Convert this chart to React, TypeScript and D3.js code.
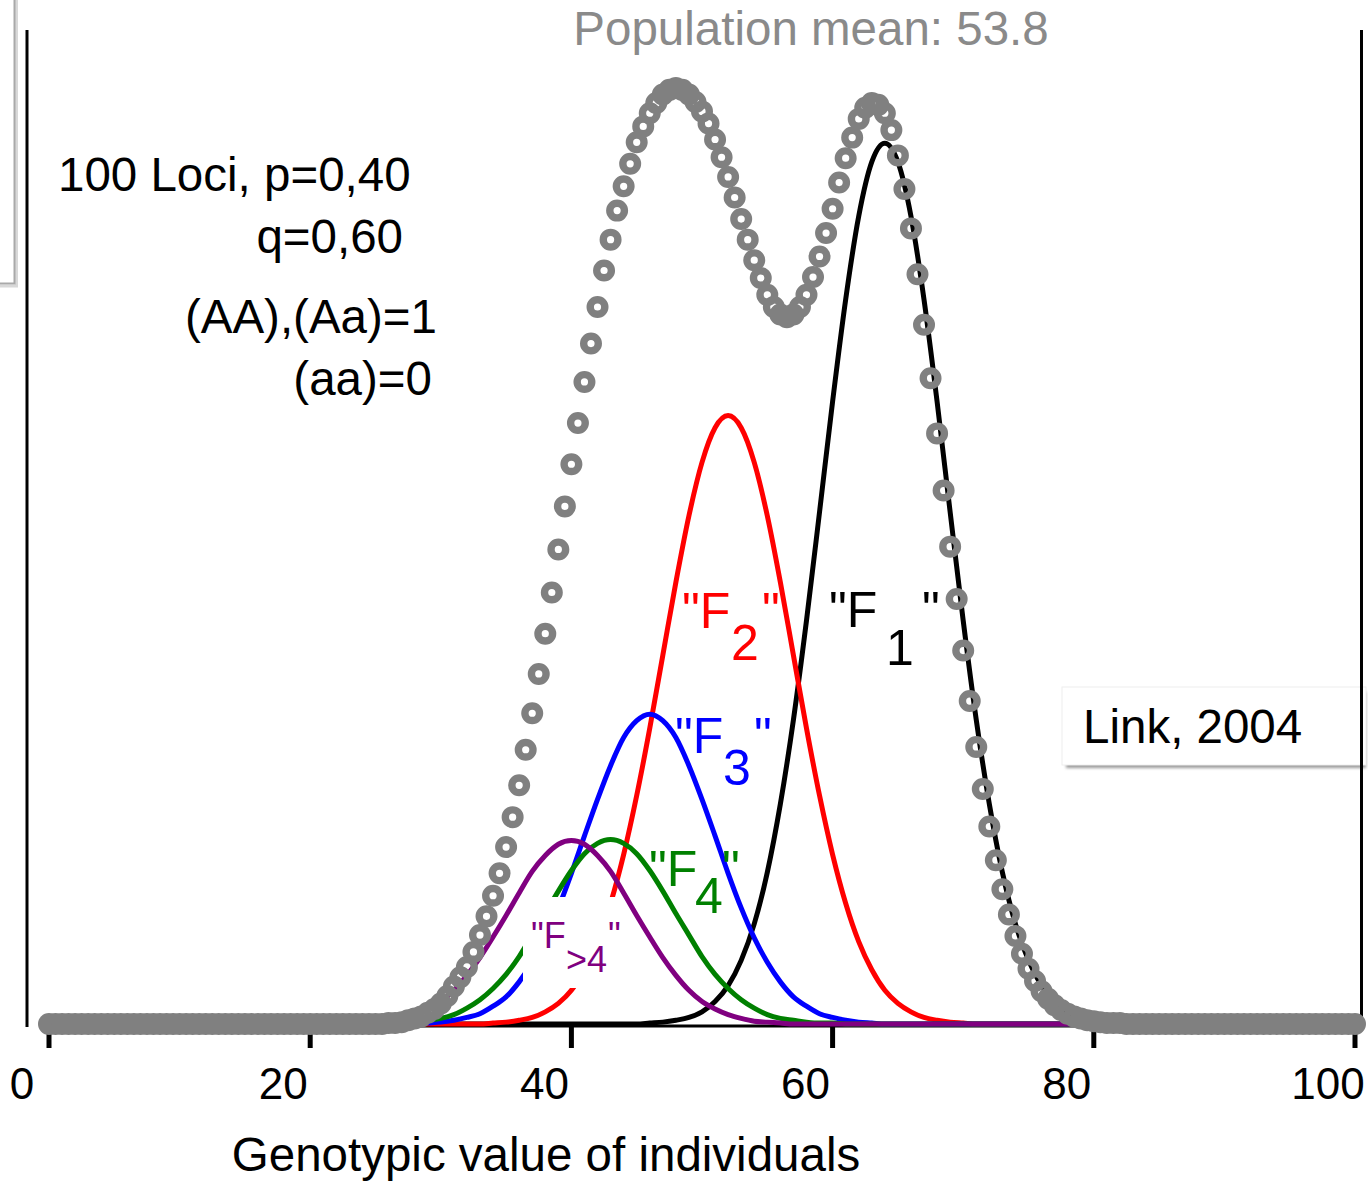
import React, { useEffect, useRef } from 'react';
import * as d3 from 'd3';

// genotypic value axis
const xTicks = [0, 20, 40, 60, 80, 100];
const xTitle = 'Genotypic value of individuals';
const meanTitle = 'Population mean: 53.8';
const noteLines = ['100 Loci, p=0,40', 'q=0,60', '(AA),(Aa)=1', '(aa)=0'];
const source = 'Link, 2004';

// generations: colour, label pieces
const generations = ['F1', 'F2', 'F3', 'F4', 'F>4'];
const genColors = ['#000000', '#ff0000', '#0000ff', '#008000', '#800080'];
const genSubs = ['1', '2', '3', '4', '>4'];

// frequency per genotypic value 0..100 (step 1)
const f1 = [
  0, 0, 0, 0, 0, 0, 0, 0, 0, 0,
  0, 0, 0, 0, 0, 0, 0, 0, 0, 0,
  0, 0, 0, 0, 0, 0, 0, 0, 0, 0,
  0, 0, 0, 0, 0, 0, 0, 0, 0, 0,
  0, 0, 0, 0, 0, 0, 0.1, 0.2, 0.4, 0.7,
  1.3, 2.4, 4.1, 6.8, 10.7, 16.2, 23.5, 32.5, 43.1, 54.7,
  66.5, 77.4, 86.3, 92.1, 94.1, 92.1, 86.3, 77.4, 66.5, 54.7,
  43.1, 32.5, 23.5, 16.2, 10.7, 6.8, 4.1, 2.4, 1.3, 0.7,
  0.4, 0.2, 0.1, 0, 0, 0, 0, 0, 0, 0,
  0, 0, 0, 0, 0, 0, 0, 0, 0, 0,
  0,
];
const f2 = [
  0, 0, 0, 0, 0, 0, 0, 0, 0, 0,
  0, 0, 0, 0, 0, 0, 0, 0, 0, 0,
  0, 0, 0, 0, 0, 0, 0, 0, 0, 0,
  0, 0, 0, 0, 0.1, 0.2, 0.4, 0.7, 1.3, 2.2,
  3.6, 5.8, 8.8, 12.9, 18.1, 24.4, 31.6, 39.4, 47.2, 54.3,
  60.0, 63.7, 65.0, 63.7, 60.0, 54.3, 47.2, 39.4, 31.6, 24.4,
  18.1, 12.9, 8.8, 5.8, 3.6, 2.2, 1.3, 0.7, 0.4, 0.2,
  0.1, 0, 0, 0, 0, 0, 0, 0, 0, 0,
  0, 0, 0, 0, 0, 0, 0, 0, 0, 0,
  0, 0, 0, 0, 0, 0, 0, 0, 0, 0,
  0,
];
const f3 = [
  0, 0, 0, 0, 0, 0, 0, 0, 0, 0,
  0, 0, 0, 0, 0, 0, 0, 0, 0, 0,
  0, 0, 0, 0, 0, 0, 0, 0, 0, 0.1,
  0.2, 0.4, 0.7, 1.1, 1.9, 2.9, 4.5, 6.6, 9.2, 12.4,
  16.1, 20.1, 24.0, 27.6, 30.6, 32.4, 33.1, 32.4, 30.6, 27.6,
  24.0, 20.1, 16.1, 12.4, 9.2, 6.6, 4.5, 2.9, 1.9, 1.1,
  0.7, 0.4, 0.2, 0.1, 0, 0, 0, 0, 0, 0,
  0, 0, 0, 0, 0, 0, 0, 0, 0, 0,
  0, 0, 0, 0, 0, 0, 0, 0, 0, 0,
  0, 0, 0, 0, 0, 0, 0, 0, 0, 0,
  0,
];
const f4 = [
  0, 0, 0, 0, 0, 0, 0, 0, 0, 0,
  0, 0, 0, 0, 0, 0, 0, 0, 0, 0,
  0, 0, 0, 0, 0, 0, 0.1, 0.1, 0.2, 0.4,
  0.6, 1.0, 1.7, 2.6, 3.8, 5.3, 7.2, 9.5, 11.8, 14.2,
  16.4, 18.2, 19.3, 19.7, 19.3, 18.2, 16.4, 14.2, 11.8, 9.5,
  7.2, 5.3, 3.8, 2.6, 1.7, 1.0, 0.6, 0.4, 0.2, 0.1,
  0.1, 0, 0, 0, 0, 0, 0, 0, 0, 0,
  0, 0, 0, 0, 0, 0, 0, 0, 0, 0,
  0, 0, 0, 0, 0, 0, 0, 0, 0, 0,
  0, 0, 0, 0, 0, 0, 0, 0, 0, 0,
  0,
];
const f5 = [
  0, 0, 0, 0, 0, 0, 0, 0, 0, 0,
  0, 0, 0, 0, 0, 0, 0, 0, 0, 0,
  0, 0, 0, 0, 0.1, 0.2, 0.3, 0.6, 1.0, 1.6,
  2.4, 3.6, 5.2, 7.1, 9.3, 11.6, 14.0, 16.3, 18.0, 19.2,
  19.6, 19.2, 18.0, 16.3, 14.0, 11.6, 9.3, 7.1, 5.2, 3.6,
  2.4, 1.6, 1.0, 0.6, 0.3, 0.2, 0.1, 0, 0, 0,
  0, 0, 0, 0, 0, 0, 0, 0, 0, 0,
  0, 0, 0, 0, 0, 0, 0, 0, 0, 0,
  0, 0, 0, 0, 0, 0, 0, 0, 0, 0,
  0, 0, 0, 0, 0, 0, 0, 0, 0, 0,
  0,
];

// whole population, genotypic value 0..100 in steps of 0.5
const population = [
  0, 0, 0, 0, 0, 0, 0, 0, 0, 0,
  0, 0, 0, 0, 0, 0, 0, 0, 0, 0,
  0, 0, 0, 0, 0, 0, 0, 0, 0, 0,
  0, 0, 0, 0, 0, 0, 0, 0, 0, 0,
  0, 0, 0, 0, 0, 0, 0, 0, 0, 0,
  0.0, 0.0, 0.1, 0.1, 0.2, 0.4, 0.6, 0.8, 1.2, 1.6,
  2.2, 3.0, 4.0, 5.0, 6.1, 7.7, 9.5, 11.5, 13.7, 16.1,
  18.9, 22.1, 25.5, 29.3, 33.2, 37.4, 41.7, 46.1, 50.7, 55.3,
  59.8, 64.2, 68.6, 72.7, 76.6, 80.5, 83.8, 86.9, 89.5, 91.9,
  94.2, 95.9, 97.3, 98.4, 99.3, 99.8, 100, 99.8, 99.3, 98.5,
  97.5, 96.2, 94.5, 92.6, 90.5, 88.3, 86.0, 83.8, 81.6, 79.7,
  77.9, 76.6, 75.8, 75.5, 75.8, 76.6, 77.9, 79.8, 82.0, 84.5,
  87.1, 89.9, 92.5, 94.7, 96.7, 97.9, 98.4, 98.2, 97.3, 95.5,
  92.8, 89.2, 85.0, 80.1, 74.7, 69.0, 63.1, 57.0, 51.0, 45.4,
  39.9, 34.5, 29.6, 25.1, 21.1, 17.5, 14.4, 11.7, 9.4, 7.5,
  5.9, 4.6, 3.5, 2.7, 2.0, 1.5, 1.1, 0.8, 0.6, 0.4,
  0.3, 0.2, 0.1, 0.1, 0.1, 0, 0, 0, 0, 0,
  0, 0, 0, 0, 0, 0, 0, 0, 0, 0,
  0, 0, 0, 0, 0, 0, 0, 0, 0, 0,
  0, 0, 0, 0, 0, 0, 0, 0, 0, 0,
  0,
];

function App() {
  const ref = useRef<SVGSVGElement>(null);

  useEffect(() => {
    document.body.style.margin = '0';
    const svg = d3.select(ref.current);
    svg.selectAll('*').remove();

    const width = 1368;
    const height = 1183;
    const font = '"Liberation Sans", Arial, Helvetica, sans-serif';

    const x = d3.scaleLinear().domain([0, 100]).range([49, 1355]);
    const y = d3.scaleLinear().domain([0, 100]).range([1024, 88]);

    svg.attr('width', width).attr('height', height).style('font-family', font);
    svg.append('rect').attr('width', width).attr('height', height).attr('fill', '#fff');

    const defs = svg.append('defs');
    defs.append('filter').attr('id', 'blur').append('feGaussianBlur').attr('stdDeviation', 1.5);

    // box poking in at the top left
    svg.append('rect')
      .attr('x', -40).attr('y', -40).attr('width', 56.5).attr('height', 326)
      .attr('fill', 'none').attr('stroke', '#d8d8d8').attr('stroke-width', 3);
    svg.append('rect')
      .attr('x', -40).attr('y', -40).attr('width', 54.5).attr('height', 323.5)
      .attr('fill', 'none').attr('stroke', '#a9a9a9').attr('stroke-width', 2);

    // frame lines
    svg.append('line').attr('x1', 27).attr('x2', 27).attr('y1', 30).attr('y2', 1027)
      .attr('stroke', '#000').attr('stroke-width', 3);
    svg.append('line').attr('x1', 1361.5).attr('x2', 1361.5).attr('y1', 30).attr('y2', 1023)
      .attr('stroke', '#000').attr('stroke-width', 3);

    // x axis
    svg.append('line').attr('x1', x(0)).attr('x2', x(100)).attr('y1', 1026).attr('y2', 1026)
      .attr('stroke', '#000').attr('stroke-width', 3);
    svg.append('g').selectAll('line').data(xTicks).join('line')
      .attr('x1', (d) => x(d)).attr('x2', (d) => x(d))
      .attr('y1', 1026).attr('y2', 1048)
      .attr('stroke', '#000').attr('stroke-width', 5);
    svg.append('g').selectAll('text').data(xTicks).join('text')
      .attr('x', (d) => x(d) - 27).attr('y', 1099)
      .attr('text-anchor', 'middle').attr('font-size', 44).attr('fill', '#000')
      .text((d) => d);
    svg.append('text').attr('x', 546).attr('y', 1171).attr('text-anchor', 'middle')
      .attr('font-size', 47.5).attr('fill', '#000').text(xTitle);

    // titles and notes
    svg.append('text').attr('x', 811).attr('y', 45).attr('text-anchor', 'middle')
      .attr('font-size', 47.5).attr('fill', '#8a8a8a').text(meanTitle);
    const notePos = [
      { x: 58, y: 191, anchor: 'start' },
      { x: 403, y: 253, anchor: 'end' },
      { x: 437, y: 333, anchor: 'end' },
      { x: 432, y: 395, anchor: 'end' },
    ];
    noteLines.forEach((t, i) => {
      svg.append('text').attr('x', notePos[i].x).attr('y', notePos[i].y)
        .attr('text-anchor', notePos[i].anchor).attr('font-size', 47.5).attr('fill', '#000').text(t);
    });

    // source box
    svg.append('rect').attr('x', 1066).attr('y', 692).attr('width', 300).attr('height', 76)
      .attr('fill', '#9a9a9a').attr('filter', 'url(#blur)');
    svg.append('rect').attr('x', 1062).attr('y', 687).attr('width', 304).attr('height', 78)
      .attr('fill', '#fff').attr('stroke', '#eeeeee').attr('stroke-width', 1);
    svg.append('text').attr('x', 1083).attr('y', 743).attr('font-size', 47.5).attr('fill', '#000').text(source);
    svg.append('line').attr('x1', 1361.5).attr('x2', 1361.5).attr('y1', 680).attr('y2', 775)
      .attr('stroke', '#000').attr('stroke-width', 3);

    // generation curves
    const steps = d3.range(0, 101);
    const series = [f1, f2, f3, f4, f5];
    const line = d3.line<number>()
      .x((_, i) => x(steps[i]))
      .y((d) => y(d))
      .curve(d3.curveMonotoneX);

    const drawCurve = (k: number) => {
      svg.append('path').datum(series[k]).attr('d', line)
        .attr('fill', 'none').attr('stroke', genColors[k]).attr('stroke-width', 5)
        .attr('stroke-linejoin', 'round');
    };
    [0, 1, 2, 3].forEach(drawCurve);

    // white backing of the F>4 label
    svg.append('rect').attr('x', 523).attr('y', 897).attr('width', 117).attr('height', 91).attr('fill', '#fff');
    drawCurve(4);

    // labels  "F_n"
    const labelPos = [
      { x: 829, y: 627, sx: 886, sy: 665, qx: 922, size: 50 },
      { x: 682, y: 628, sx: 731, sy: 660, qx: 762, size: 50 },
      { x: 675, y: 753, sx: 723, sy: 785, qx: 754, size: 50 },
      { x: 649, y: 886, sx: 695, sy: 913, qx: 722, size: 50 },
      { x: 531, y: 948, sx: 566, sy: 972, qx: 608, size: 36 },
    ];
    generations.forEach((g, k) => {
      const p = labelPos[k];
      const lg = svg.append('g').attr('fill', genColors[k]).attr('font-size', p.size).attr('data-label', g);
      lg.append('text').attr('x', p.x).attr('y', p.y).text('"F');
      lg.append('text').attr('x', p.sx).attr('y', p.sy).text(genSubs[k]);
      lg.append('text').attr('x', p.qx).attr('y', p.y).text('"');
    });

    // population (grey rings)
    const half = d3.range(0, 100.5, 0.5);
    svg.append('g').selectAll('circle').data(population).join('circle')
      .attr('cx', (_, i) => x(half[i]))
      .attr('cy', (d) => y(d))
      .attr('r', 7.3)
      .attr('fill', 'none')
      .attr('stroke', '#808080')
      .attr('stroke-width', 7.4);
  }, []);

  return <svg ref={ref} style={{ display: 'block' }}></svg>;
}

export default App;
